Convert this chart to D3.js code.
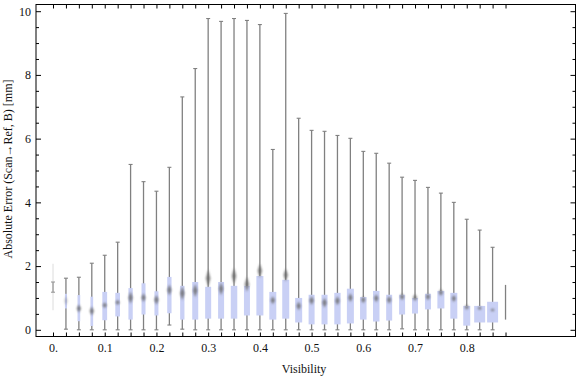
<!DOCTYPE html>
<html>
<head>
<meta charset="utf-8">
<script src="https://cdn.jsdelivr.net/npm/d3@7"></script>
<style>
  body { margin: 0; background: #fff; }
  text { font-family: "Liberation Serif", "Times New Roman", serif; fill: #111; }
</style>
</head>
<body>
<div id="chart"></div>
<script>
// bin centres (visibility)
const vis = [0, 0.025, 0.05, 0.075, 0.1, 0.125, 0.15, 0.175, 0.2, 0.225, 0.25, 0.275,
  0.3, 0.325, 0.35, 0.375, 0.4, 0.425, 0.45, 0.475, 0.5, 0.525, 0.55, 0.575,
  0.6, 0.625, 0.65, 0.675, 0.7, 0.725, 0.75, 0.775, 0.8, 0.825, 0.85, 0.875];
const wMin = [1.18, 0.02, 0, 0, 0, 0, 0, 0, 0, 0.15, 0.02, 0,
  0, 0, 0, 0, 0, 0, 0, 0, 0, 0, 0, 0,
  0, 0, 0, 0.03, 0, 0, 0, 0, 0, 0, 0, 0.32];
const wMax = [1.50, 1.62, 1.65, 2.09, 2.34, 2.75, 5.19, 4.65, 4.35, 5.10, 7.31, 8.20,
  9.77, 9.68, 9.77, 9.71, 9.58, 5.66, 9.93, 6.64, 6.26, 6.23, 6.10, 6.01,
  5.60, 5.54, 5.23, 4.79, 4.69, 4.47, 4.29, 4.00, 3.47, 3.13, 2.59, 1.41];
const q1 = [null, 0.67, 0.27, 0.12, 0.30, 0.42, 0.32, 0.48, 0.45, 0.52, 0.32, 0.32,
  0.35, 0.35, 0.35, 0.45, 0.45, 0.32, 0.35, 0.23, 0.17, 0.17, 0.17, 0.20,
  0.32, 0.26, 0.29, 0.48, 0.51, 0.64, 0.67, 0.35, 0.13, 0.23, 0.23, null];
const q3 = [null, 1.13, 1.09, 1.04, 1.19, 1.16, 1.31, 1.46, 1.21, 1.66, 1.38, 1.50,
  1.35, 1.50, 1.38, 1.38, 1.69, 1.19, 1.57, 1.00, 1.10, 1.10, 1.16, 1.29,
  1.03, 1.22, 1.10, 1.10, 1.00, 1.13, 1.22, 1.16, 0.75, 0.75, 0.88, null];
const med = [null, 0.91, 0.67, 0.59, 0.77, 0.86, 1.01, 1.01, 0.94, 1.25, 1.15, 1.23,
  1.62, 1.29, 1.69, 1.43, 1.85, 0.93, 1.72, 0.75, 0.92, 0.85, 0.91, 1.01,
  0.94, 0.99, 0.94, 1.04, 1.01, 1.04, 1.17, 0.98, 0.71, 0.68, 0.62, null];
// relative box width (sample weight) and median marker spread
const weight = [0, 2, 2.7, 2.7, 4.8, 4.7, 4.3, 4, 4, 4.3, 4.3, 6,
  6, 6, 6.5, 6, 7, 7, 7, 7, 6, 6, 6.3, 7,
  6.5, 6.5, 6, 6, 6, 6, 7, 7, 7, 11, 11, 0];
const spread = [0, 0.31, 0.25, 0.28, 0.19, 0.16, 0.38, 0.28, 0.31, 0.34, 0.44, 0.41,
  0.53, 0.41, 0.50, 0.47, 0.44, 0.25, 0.41, 0.28, 0.28, 0.31, 0.28, 0.28,
  0.22, 0.25, 0.25, 0.22, 0.22, 0.22, 0.22, 0.22, 0.16, 0.12, 0.09, 0];
const ghostRange = [0.61, 2.07];   // faint extent of the first bin
const xLabels = [0, 0.1, 0.2, 0.3, 0.4, 0.5, 0.6, 0.7, 0.8];
const yMajor = [0, 2, 4, 6, 8, 10];
const yMinor = [0.5, 1, 1.5, 2.5, 3, 3.5, 4.5, 5, 5.5, 6.5, 7, 7.5, 8.5, 9, 9.5];

const width = 576, height = 377;
const frame = {left: 36, right: 575.5, top: 4.5, bottom: 336.5};

const svg = d3.select("#chart").append("svg")
  .attr("width", width)
  .attr("height", height);

const x = d3.scaleLinear().domain([-0.0329, 1.0103]).range([frame.left, frame.right]);
const y = d3.scaleLinear().domain([-0.21, 10.21]).range([frame.bottom, frame.top]);
const bw = d3.scaleLinear().domain([0, 1]).range([0, 1]); // weight -> px

const defs = svg.append("defs");
defs.append("filter").attr("id", "blur")
  .attr("x", "-150%").attr("y", "-60%").attr("width", "400%").attr("height", "220%")
  .append("feGaussianBlur").attr("stdDeviation", 0.9);

const bins = vis.map((v, i) => ({v, lo: wMin[i], hi: wMax[i], q1: q1[i], q3: q3[i],
  med: med[i], w: weight[i], s: spread[i], i}));

const g = svg.append("g");

// faint first-bin range
g.append("line")
  .attr("x1", x(vis[0])).attr("x2", x(vis[0]))
  .attr("y1", y(ghostRange[0])).attr("y2", y(ghostRange[1]))
  .attr("stroke", "#e4e4e4").attr("stroke-width", 1.3);

// whiskers
g.selectAll(".whisker").data(bins).enter().append("line")
  .attr("class", "whisker")
  .attr("x1", d => x(d.v)).attr("x2", d => x(d.v))
  .attr("y1", d => y(d.lo)).attr("y2", d => y(d.hi))
  .attr("stroke", d => d.i === 0 ? "#9a9a9a" : "#808080")
  .attr("stroke-width", 1.3);

// caps (last bin has none)
const capped = bins.filter(d => d.i < vis.length - 1);
["lo", "hi"].forEach(k => {
  g.selectAll(".cap-" + k).data(capped).enter().append("line")
    .attr("x1", d => x(d.v) - 2).attr("x2", d => x(d.v) + 2)
    .attr("y1", d => y(d[k])).attr("y2", d => y(d[k]))
    .attr("stroke", d => d.i === 0 ? "#9a9a9a" : "#808080")
    .attr("stroke-width", 1.1);
});

// boxes
const boxed = bins.filter(d => d.q1 !== null);
g.selectAll(".box").data(boxed).enter().append("rect")
  .attr("class", "box")
  .attr("x", d => x(d.v) - bw(d.w) / 2)
  .attr("width", d => bw(d.w))
  .attr("y", d => y(d.q3))
  .attr("height", d => y(d.q1) - y(d.q3))
  .attr("fill", "#c9d0f5");

// median markers, blurred diamonds
g.selectAll(".med").data(boxed).enter().append("path")
  .attr("class", "med")
  .attr("d", d => {
    const cx = x(d.v), cy = y(d.med);
    const h = Math.max(2, y(0) - y(d.s)) / 2;
    const w = d.i === 1 ? 1.5 : 2.2;
    return `M${cx},${cy - h}L${cx + w},${cy}L${cx},${cy + h}L${cx - w},${cy}Z`;
  })
  .attr("fill", "#6a6a6a")
  .attr("opacity", d => d.i === 1 ? 0.4 : 0.85)
  .attr("filter", "url(#blur)");

// frame
svg.append("rect")
  .attr("x", frame.left).attr("y", frame.top)
  .attr("width", frame.right - frame.left)
  .attr("height", frame.bottom - frame.top)
  .attr("fill", "none").attr("stroke", "#000").attr("stroke-width", 1);

// tick marks on all four sides
function ticks(axis, pos, size, values) {
  const a = svg.append("g")
    .attr("transform", pos)
    .call(axis.tickValues(values).tickSize(size).tickFormat(""));
  a.select(".domain").remove();
  a.selectAll("line").attr("stroke", "#000");
}
ticks(d3.axisBottom(x), `translate(0,${frame.bottom})`, -4, vis);
ticks(d3.axisTop(x), `translate(0,${frame.top})`, -4, vis);
ticks(d3.axisLeft(y), `translate(${frame.left},0)`, -5, yMajor);
ticks(d3.axisLeft(y), `translate(${frame.left},0)`, -3, yMinor);
ticks(d3.axisRight(y), `translate(${frame.right},0)`, -5, yMajor);
ticks(d3.axisRight(y), `translate(${frame.right},0)`, -3, yMinor);

// tick labels
const xAx = svg.append("g")
  .attr("transform", `translate(0,${frame.bottom})`)
  .call(d3.axisBottom(x).tickValues(xLabels).tickSize(0).tickPadding(7)
    .tickFormat(d => d === 0 ? "0." : d3.format(".1f")(d)));
xAx.select(".domain").remove();
xAx.selectAll("text").style("font-size", "12px");

const yAx = svg.append("g")
  .attr("transform", `translate(${frame.left},0)`)
  .call(d3.axisLeft(y).tickValues(yMajor).tickSize(0).tickPadding(5));
yAx.select(".domain").remove();
yAx.selectAll("text").style("font-size", "12px");

// axis titles
svg.append("text")
  .attr("x", 304).attr("y", 373)
  .attr("text-anchor", "middle")
  .style("font-size", "12px")
  .text("Visibility");

svg.append("text")
  .attr("transform", "translate(12,169) rotate(-90)")
  .attr("text-anchor", "middle")
  .style("font-size", "12px")
  .text("Absolute Error (Scan\u2192Ref, B) [mm]");
</script>
</body>
</html>
